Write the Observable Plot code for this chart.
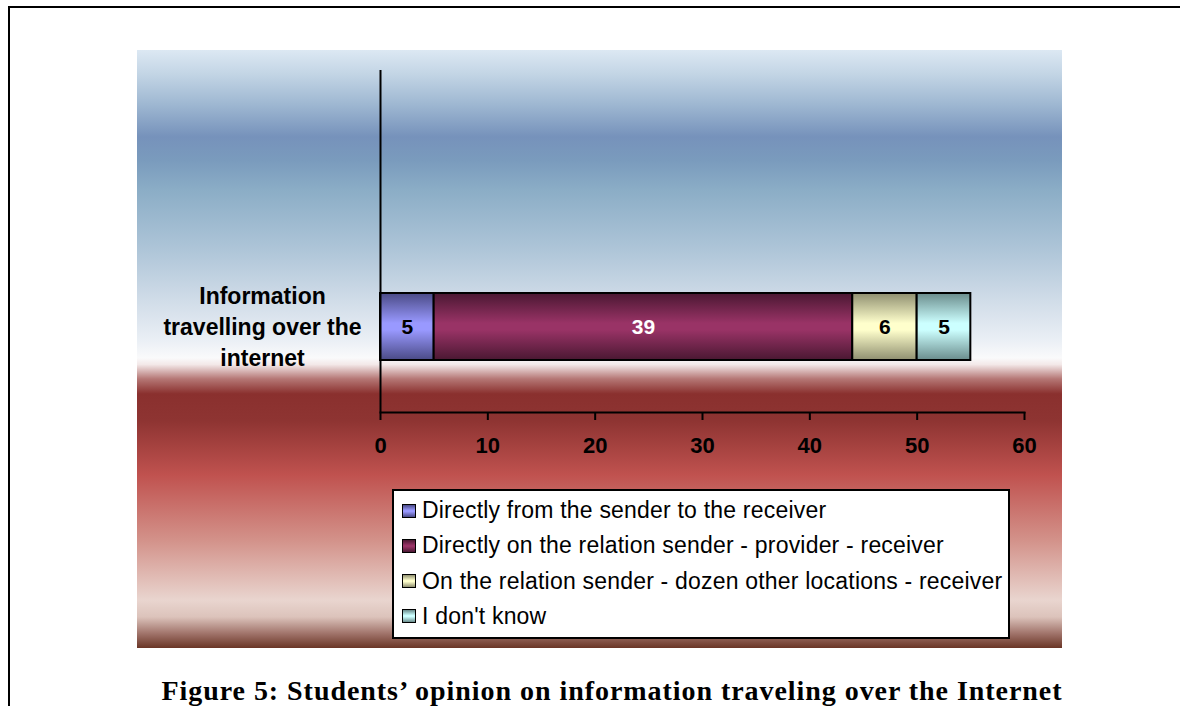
<!DOCTYPE html>
<html>
<head>
<meta charset="utf-8">
<script src="https://cdn.jsdelivr.net/npm/d3@7"></script>
<script src="https://cdn.jsdelivr.net/npm/@observablehq/plot@0.6"></script>
<style>
  html, body { margin: 0; padding: 0; background: #fff; }
  #page { position: relative; width: 1180px; height: 706px; overflow: hidden; font-family: "Liberation Sans", Arial, sans-serif; }
  #border { position: absolute; left: 8px; top: 6px; width: 1200px; height: 720px; border-top: 2px solid #000; border-left: 2px solid #000; }
  #bg { position: absolute; left: 137px; top: 50px; width: 925px; height: 598px;
    background: linear-gradient(to bottom,
      #dce8f3 0%, #c3d5e5 4%, #9fb8d2 9%, #7692bb 14.5%, #7a9bbd 18.5%, #8badc6 23.4%,
      #aec5d8 33.4%, #d0dce8 41.8%, #eaeff5 48.5%, #fafafb 51.5%, #f3e8e8 52.6%,
      #b57775 55%, #8a302e 57.5%, #8e3432 62%, #c0524f 71.1%, #d3928a 82%,
      #e9d5cf 92%, #dcc3bb 94.8%, #a0736a 97.6%, #6a3526 100%); }
  #chart { position: absolute; left: 0; top: 0; }
  #legend { position: absolute; left: 392px; top: 489px; width: 614px; height: 144px; border: 2px solid #000; background: #fff; padding-top: 2px; box-sizing: content-box; }
  .row { position: relative; height: 35.3px; }
  .sw { position: absolute; left: 8px; top: 10.5px; width: 12px; height: 12px; border: 1.5px solid #000; }
  .lt { position: absolute; left: 28px; font-size: 23px; letter-spacing: 0.2px; line-height: 35px; top: 0; color: #000; white-space: nowrap; }
  #caption { position: absolute; left: 112px; width: 1000px; top: 677px; text-align: center; font-family: "Liberation Serif", "Times New Roman", serif; font-weight: bold; font-size: 28px; letter-spacing: 0.95px; line-height: 28px; white-space: nowrap; }
</style>
</head>
<body>
<div id="page">
  <div id="border"></div>
  <div id="bg"></div>
  <div id="chart"></div>
  <div id="legend"></div>
  <div id="caption">Figure 5: Students’ opinion on information traveling over the Internet</div>
</div>
<script>
// ---- data ----
const categories = ["Information\ntravelling over the\ninternet"];
const answers = [
  "Directly from the sender to the receiver",
  "Directly on the relation sender - provider - receiver",
  "On the relation sender - dozen other locations - receiver",
  "I don't know"
];
const counts = [5, 39, 6, 5];
const baseColors = ["#9999ff", "#993366", "#ffffcc", "#ccffff"];
const edgeColors = ["#4a4a85", "#4a1832", "#8f8f70", "#6a8c8c"];
const labelColors = ["black", "white", "black", "black"];
const xTicks = [0, 10, 20, 30, 40, 50, 60];

// ---- derived table ----
const ends = d3.cumsum(counts);
const rows = answers.map((a, i) => ({
  category: categories[0],
  answer: a,
  value: counts[i],
  x1: ends[i] - counts[i],
  x2: ends[i],
  labelColor: labelColors[i]
}));
const gradIds = answers.map((a, i) => `barGrad${i}`);

function defsMark() {
  const defs = d3.create("svg:defs");
  answers.forEach((a, i) => {
    const g = defs.append("linearGradient").attr("id", gradIds[i]).attr("x1", 0).attr("y1", 0).attr("x2", 0).attr("y2", 1);
    g.append("stop").attr("offset", "0%").attr("stop-color", edgeColors[i]);
    g.append("stop").attr("offset", "45%").attr("stop-color", baseColors[i]);
    g.append("stop").attr("offset", "55%").attr("stop-color", baseColors[i]);
    g.append("stop").attr("offset", "100%").attr("stop-color", edgeColors[i]);
  });
  return defs.node();
}

const labelMarks = Array.from(new Set(labelColors)).map(c =>
  Plot.text(rows.filter(d => d.labelColor === c), {
    x: d => (d.x1 + d.x2) / 2,
    y: "category",
    text: d => String(d.value),
    fill: c,
    fontSize: 21,
    fontWeight: "bold"
  })
);

const chart = Plot.plot({
  width: 1180,
  height: 470,
  marginLeft: 380,
  marginRight: 156,
  marginTop: 70,
  marginBottom: 58,
  style: { background: "transparent", fontFamily: "'Liberation Sans', Arial, sans-serif", overflow: "visible" },
  x: { domain: [0, 60], axis: null },
  y: { type: "band", domain: categories, range: [293, 360], padding: 0, axis: null },
  color: { domain: answers, range: gradIds.map(id => `url(#${id})`) },
  marks: [
    defsMark,
    Plot.barX(rows, { x1: "x1", x2: "x2", y: "category", fill: "answer", stroke: "black", strokeWidth: 2 }),
    ...labelMarks,
    Plot.ruleX([0], { stroke: "black", strokeWidth: 2 }),
    Plot.frame({ anchor: "bottom", stroke: "black", strokeWidth: 2 }),
    Plot.axisX({ ticks: xTicks, tickSize: 8, tickPadding: 17, fontSize: 22, fontWeight: "bold", stroke: "black", strokeWidth: 2, fill: "black", label: null }),
    Plot.text(categories, { x: () => 0, y: d => d, text: d => d, dx: -118, dy: -2, textAnchor: "middle", fontSize: 23, fontWeight: "bold", lineHeight: 1.35, fill: "black" })
  ]
});
document.getElementById("chart").appendChild(chart);

// ---- legend ----
const legend = d3.select("#legend");
answers.forEach((a, i) => {
  const r = legend.append("div").attr("class", "row");
  r.append("div").attr("class", "sw")
    .style("background", `linear-gradient(to bottom, ${edgeColors[i]} 0%, ${baseColors[i]} 45%, ${baseColors[i]} 55%, ${edgeColors[i]} 100%)`);
  r.append("div").attr("class", "lt").text(a);
});
</script>
</body>
</html>
